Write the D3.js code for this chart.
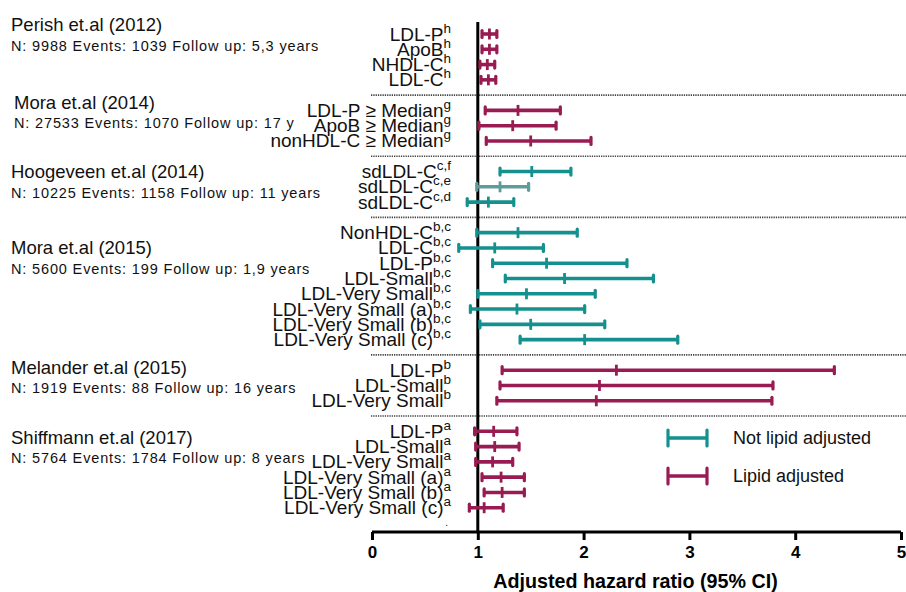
<!DOCTYPE html>
<html>
<head>
<meta charset="utf-8">
<script src="https://cdn.jsdelivr.net/npm/d3@7"></script>
<style>
  html, body { margin: 0; padding: 0; background: #fff; }
  svg { display: block; font-family: Arial, "Liberation Sans", sans-serif; }
</style>
</head>
<body>
<svg id="chart" width="906" height="592"></svg>
<script>
// ---------------- DATA ----------------
const studyTitles = [
  "Perish et.al (2012)",
  "Mora et.al (2014)",
  "Hoogeveen et.al (2014)",
  "Mora et.al (2015)",
  "Melander et.al (2015)",
  "Shiffmann et.al (2017)"
];
const studyInfo = [
  "N: 9988 Events: 1039 Follow up: 5,3 years",
  "N: 27533 Events: 1070 Follow up: 17 y",
  "N: 10225 Events: 1158 Follow up: 11 years",
  "N: 5600 Events: 199 Follow up: 1,9 years",
  "N: 1919 Events: 88 Follow up: 16 years",
  "N: 5764 Events: 1784 Follow up: 8 years"
];
// row -> study index
const rowStudy = [0,0,0,0, 1,1,1, 2,2,2, 3,3,3,3,3,3,3,3, 4,4,4, 5,5,5,5,5,5];
const rowLabels = [
  "LDL-P","ApoB","NHDL-C","LDL-C",
  "LDL-P \u2265 Median","ApoB \u2265 Median","nonHDL-C \u2265 Median",
  "sdLDL-C","sdLDL-C","sdLDL-C",
  "NonHDL-C","LDL-C","LDL-P","LDL-Small","LDL-Very Small","LDL-Very Small (a)","LDL-Very Small (b)","LDL-Very Small (c)",
  "LDL-P","LDL-Small","LDL-Very Small",
  "LDL-P","LDL-Small","LDL-Very Small","LDL-Very Small (a)","LDL-Very Small (b)","LDL-Very Small (c)"
];
const rowSup = [
  "h","h","h","h",
  "g","g","g",
  "c,f","c,e","c,d",
  "b,c","b,c","b,c","b,c","b,c","b,c","b,c","b,c",
  "b","b","b",
  "a","a","a","a","a","a"
];
const hazardRatio = [
  1.11,1.11,1.09,1.10,
  1.38,1.33,1.50,
  1.51,1.21,1.10,
  1.38,1.16,1.65,1.82,1.46,1.37,1.50,2.01,
  2.31,2.15,2.12,
  1.15,1.16,1.14,1.22,1.23,1.06
];
const ciLow = [
  1.04,1.04,1.02,1.03,
  1.07,1.01,1.08,
  1.21,0.99,0.90,
  0.99,0.82,1.14,1.26,1.00,0.93,1.02,1.40,
  1.23,1.21,1.18,
  0.97,0.98,0.98,1.04,1.06,0.92
];
const ciHigh = [
  1.18,1.18,1.16,1.17,
  1.78,1.74,2.07,
  1.88,1.48,1.34,
  1.94,1.62,2.41,2.66,2.11,2.01,2.20,2.89,
  4.37,3.79,3.78,
  1.37,1.39,1.33,1.44,1.44,1.24
];
// adjustment series: "lipid" = Lipid adjusted, "not" = Not lipid adjusted
const adjustment = [
  "lipid","lipid","lipid","lipid",
  "lipid","lipid","lipid",
  "not","notFaded","not",
  "not","not","not","not","not","not","not","not",
  "lipid","lipid","lipid",
  "lipid","lipid","lipid","lipid","lipid","lipid"
];
const legendLabels = ["Not lipid adjusted", "Lipid adjusted"];
const legendSeries = ["not", "lipid"];
const xTicks = [0, 1, 2, 3, 4, 5];
const xTitle = "Adjusted hazard ratio (95% CI)";

// ---------------- LAYOUT / STYLE ----------------
const colors = { lipid: "#981b52", not: "#14918e", notFaded: "#5e9b99" };
const titleOffset = [-9, -8, 0, 15, -3, 6];   // px, relative to first row of study
const titleX = [11, 14, 11, 11, 11, 11];

const svg = d3.select("#chart");

// build slot domain: rows, separators between studies, a trailing dot slot
const slots = [];
rowStudy.forEach((s, i) => {
  if (i > 0 && rowStudy[i - 1] !== s) slots.push("sep" + s);
  slots.push("r" + i);
});
slots.push("end");

const y = d3.scalePoint().domain(slots).range([34, 523]);
const x = d3.scaleLinear().domain([0, 5]).range([372, 901]);
const axisY = 532;

// separators
svg.append("g").selectAll("line")
  .data(slots.filter(d => d.startsWith("sep")))
  .join("line")
  .attr("x1", 371).attr("x2", 906)
  .attr("y1", d => y(d)).attr("y2", d => y(d))
  .attr("stroke", "#444").attr("stroke-width", 1.6)
  .attr("stroke-dasharray", "1.3,1");

// reference line at HR = 1
svg.append("line")
  .attr("x1", x(1)).attr("x2", x(1))
  .attr("y1", 22).attr("y2", axisY)
  .attr("stroke", "#000").attr("stroke-width", 3);

// study titles
const firstRow = studyTitles.map((t, s) => rowStudy.indexOf(s));
svg.append("g").selectAll("text")
  .data(studyTitles)
  .join("text")
  .attr("x", (d, s) => titleX[s])
  .attr("y", (d, s) => y("r" + firstRow[s]) + titleOffset[s])
  .attr("dy", "0.35em")
  .attr("font-size", 18.5)
  .attr("fill", "#111")
  .text(d => d);

svg.append("g").selectAll("text")
  .data(studyInfo)
  .join("text")
  .attr("x", (d, s) => titleX[s])
  .attr("y", (d, s) => y("r" + firstRow[s]) + titleOffset[s] + 21)
  .attr("dy", "0.35em")
  .attr("font-size", 14.5)
  .attr("letter-spacing", 0.85)
  .attr("fill", "#111")
  .text(d => d);

// row labels with superscripts
const lab = svg.append("g").selectAll("text")
  .data(rowLabels)
  .join("text")
  .attr("x", 451)
  .attr("y", (d, i) => y("r" + i) + 6.5)
  .attr("text-anchor", "end")
  .attr("font-size", 19)
  .attr("fill", "#111");
lab.append("tspan").text(d => d);
lab.append("tspan")
  .attr("dy", -8)
  .attr("font-size", 13.5)
  .text((d, i) => rowSup[i]);

// trailing dot
svg.append("text")
  .attr("x", 448).attr("y", y("end") + 3)
  .attr("text-anchor", "end").attr("font-size", 10).attr("fill", "#111")
  .text(".");

// error bars
function errorBar(g, x0, x1, xm, yy, col, capH, midH) {
  g.append("line").attr("x1", x0).attr("x2", x1).attr("y1", yy).attr("y2", yy)
    .attr("stroke", col).attr("stroke-width", 3.6);
  [x0, x1].forEach(xx => g.append("line")
    .attr("x1", xx).attr("x2", xx).attr("y1", yy - capH / 2).attr("y2", yy + capH / 2)
    .attr("stroke", col).attr("stroke-width", 3.2).attr("stroke-linecap", "round"));
  if (xm != null) g.append("line")
    .attr("x1", xm).attr("x2", xm).attr("y1", yy - midH / 2).attr("y2", yy + midH / 2)
    .attr("stroke", col).attr("stroke-width", 2.8);
}
const bars = svg.append("g");
hazardRatio.forEach((hr, i) => {
  const g = bars.append("g");
  errorBar(g, x(ciLow[i]), x(ciHigh[i]), x(hr), y("r" + i), colors[adjustment[i]], 7, 11);
});

// axis
const axisG = svg.append("g").attr("transform", `translate(0,${axisY})`)
  .call(d3.axisBottom(x).tickValues(xTicks).tickFormat(d3.format("d")).tickSize(8).tickPadding(6));
axisG.select(".domain").attr("stroke", "#000").attr("stroke-width", 3)
  .attr("d", `M${x(0)},0H${x(5)}`);
axisG.selectAll(".tick line").attr("stroke", "#000").attr("stroke-width", 3);
axisG.selectAll(".tick text")
  .attr("font-size", 17).attr("font-weight", "bold").attr("fill", "#000")
  .attr("font-family", "Arial, 'Liberation Sans', sans-serif");

svg.append("text")
  .attr("x", (x(0) + x(5)) / 2 - 1).attr("y", 588)
  .attr("text-anchor", "middle")
  .attr("font-size", 19.7).attr("font-weight", "bold").attr("fill", "#000")
  .text(xTitle);

// legend
const legY = d3.scalePoint().domain(legendSeries).range([438, 476]);
const leg = svg.append("g");
legendSeries.forEach((s, i) => {
  const g = leg.append("g");
  errorBar(g, 668, 707, null, legY(s), colors[s], 16, 0);
  g.append("text").attr("x", 733).attr("y", legY(s)).attr("dy", "0.35em")
    .attr("font-size", 18).attr("fill", "#111").text(legendLabels[i]);
});
</script>
</body>
</html>
